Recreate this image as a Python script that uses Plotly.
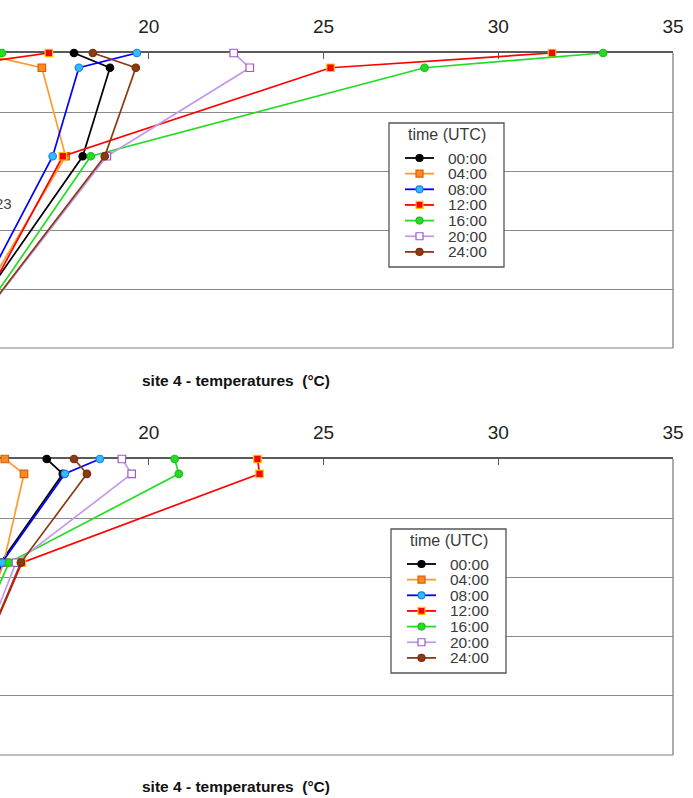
import plotly.graph_objects as go

# ---------------- data ----------------
TIMES = ["00:00", "04:00", "08:00", "12:00", "16:00", "20:00", "24:00"]
TEMP_TICKS = [20, 25, 30, 35]
DEPTH = [0, 0.25, 1.75, 5]
DEPTH_LOOP = [0, 0.25, 1.75, 5, 0.25, 0]

# top panel (site 4, first profile set)
top_00 = [17.86, 18.89, 18.11, 14.28]
top_04 = [15.10, 16.94, 17.62, 14.37]
top_08 = [19.66, 18.00, 17.25, 14.37]
top_12 = [31.54, 25.20, 17.54, 14.57, 14.10, 17.14]
top_16 = [33.00, 27.89, 18.34, 14.57, 14.00, 15.80]
top_20 = [22.43, 22.89, 18.80, 14.55]
top_24 = [18.40, 19.63, 18.74, 14.54]

# bottom panel (site 4, second profile set)
bot_00 = [17.08, 17.54, 15.76, 13.80]
bot_04 = [15.88, 16.43, 15.85, 13.90]
bot_08 = [18.60, 17.60, 15.80, 13.90]
bot_12 = [23.11, 23.17, 16.37, 14.00]
bot_16 = [20.74, 20.86, 16.00, 13.60]
bot_20 = [19.23, 19.51, 16.20, 14.05]
bot_24 = [17.86, 18.23, 16.34, 14.03]

TOP = [top_00, top_04, top_08, top_12, top_16, top_20, top_24]
BOT = [bot_00, bot_04, bot_08, bot_12, bot_16, bot_20, bot_24]

AXIS_TITLE = "site 4 - temperatures \u00a0(°C)"

# ---------------- styles ----------------
LINE_COL = ["#000000", "#FF9A2E", "#0000FF", "#FF0000", "#22DD22", "#C49AF0", "#8B3A12"]
FILL_COL = ["#000000", "#FF8A1E", "#33BBFF", "#FF0000", "#22DD22", "#FFFFFF", "#8B3A12"]
EDGE_COL = ["#000000", "#D9600A", "#1E7FE0", "#FFC400", "#22BB22", "#9A5CC8", "#7A2E0A"]
SYMBOL = ["circle", "square", "circle", "square", "circle", "square", "circle"]

W, H = 693, 798
ML, MR, MT, MB = 0, 20, 53, 43
PW = W - ML - MR
PH = H - MT - MB


def px_x(x):
    return (x - ML) / PW


def px_y(y):
    return (H - MB - y) / PH


fig = go.Figure()

panels = [(TOP, "x", "y"), (BOT, "x2", "y2")]
for data, xa, ya in panels:
    for i, temps in enumerate(data):
        depths = DEPTH_LOOP if len(temps) == len(DEPTH_LOOP) else DEPTH
        fig.add_trace(go.Scatter(
            x=temps, y=depths, xaxis=xa, yaxis=ya,
            mode="lines+markers", name=TIMES[i], showlegend=False,
            line=dict(color=LINE_COL[i], width=1.7),
            marker=dict(symbol=SYMBOL[i], size=7.5, color=FILL_COL[i],
                        line=dict(color=EDGE_COL[i], width=1.2)),
            cliponaxis=False,
        ))

top_dom = [px_y(348), px_y(53)]
bot_dom = [px_y(755), px_y(459)]

xcommon = dict(range=[15.743, 35.0], side="top", showgrid=False, zeroline=False,
               showline=True, linecolor="#5a5a5a", linewidth=1.6,
               ticks="inside", ticklen=6, tickcolor="#5a5a5a", tickwidth=1.3,
               tickvals=TEMP_TICKS, ticklabelstandoff=11,
               tickfont=dict(family="Liberation Sans, Arial", size=19, color="#222222"),
               layer="below traces")
ycommon = dict(range=[5, 0], dtick=1, showgrid=True, gridcolor="#8a8a8a", gridwidth=1.4,
               zeroline=False, showline=False, showticklabels=False, ticks="",
               layer="below traces")

fig.update_layout(
    width=W, height=H,
    margin=dict(l=ML, r=MR, t=MT, b=MB),
    paper_bgcolor="white", plot_bgcolor="white",
    showlegend=False,
    xaxis=dict(**xcommon, anchor="y"),
    yaxis=dict(**ycommon, domain=top_dom, anchor="x"),
    xaxis2=dict(**xcommon, anchor="y2"),
    yaxis2=dict(**ycommon, domain=bot_dom, anchor="x2"),
)

shapes = []
annotations = []

# plot frame (right and bottom borders)
for xr, yr in [("x", "y"), ("x2", "y2")]:
    shapes.append(dict(type="line", xref=f"{xr} domain", yref=f"{yr} domain",
                       x0=0, x1=1, y0=0, y1=0, line=dict(color="#a8a8a8", width=1.6)))
    shapes.append(dict(type="line", xref=f"{xr} domain", yref=f"{yr} domain",
                       x0=1, x1=1, y0=0, y1=1, line=dict(color="#8a8a8a", width=1.4)))

# axis titles under each panel
for ty in [380, 787]:
    annotations.append(dict(text=AXIS_TITLE, xref="paper", yref="paper",
                            x=px_x(236), y=px_y(ty), xanchor="center", yanchor="middle",
                            showarrow=False,
                            font=dict(family="Liberation Sans, Arial", size=15.5, color="#111111",
                                      weight="bold")))

# partially cut label in top panel
annotations.append(dict(text="23", xref="paper", yref="paper", x=px_x(14), y=px_y(203),
                        xanchor="right", yanchor="middle", showarrow=False,
                        font=dict(family="Liberation Sans, Arial", size=15, color="#444444")))

# custom legends (Excel style boxes)
LEG_STEP = 15.65
for dx, dy in [(0, 0), (2, 406)]:
    left, right, top, bottom = 389 + dx, 504 + dx, 123 + dy, 267 + dy
    shapes.append(dict(type="rect", xref="paper", yref="paper",
                       x0=px_x(left), x1=px_x(right), y0=px_y(bottom), y1=px_y(top),
                       line=dict(color="#555555", width=1.3), fillcolor="white", layer="above"))
    annotations.append(dict(text="time (UTC)", xref="paper", yref="paper",
                            x=px_x((left + right) / 2), y=px_y(134 + dy),
                            xanchor="center", yanchor="middle", showarrow=False,
                            font=dict(family="Liberation Sans, Arial", size=16, color="#3a3a3a")))
    for i, name in enumerate(TIMES):
        cy = 158 + dy + i * LEG_STEP
        shapes.append(dict(type="line", xref="paper", yref="paper",
                           x0=px_x(405 + dx), x1=px_x(434 + dx), y0=px_y(cy), y1=px_y(cy),
                           line=dict(color=LINE_COL[i], width=1.8), layer="above"))
        mtype = "circle" if SYMBOL[i] == "circle" else "rect"
        shapes.append(dict(type=mtype, xref="paper", yref="paper",
                           xsizemode="pixel", ysizemode="pixel",
                           xanchor=px_x(419.5 + dx), yanchor=px_y(cy),
                           x0=-3.5, x1=3.5, y0=-3.5, y1=3.5,
                           fillcolor=FILL_COL[i], line=dict(color=EDGE_COL[i], width=1.2),
                           layer="above"))
        annotations.append(dict(text=name, xref="paper", yref="paper",
                                x=px_x(446 + dx), y=px_y(cy),
                                xanchor="left", yanchor="middle", showarrow=False,
                                font=dict(family="Liberation Sans, Arial", size=15.5,
                                          color="#3a3a3a")))

fig.update_layout(shapes=shapes, annotations=annotations)

fig.write_html("out.html", config={"displayModeBar": False},
               post_script="document.body.style.margin='0px';document.body.style.overflow='hidden';")
